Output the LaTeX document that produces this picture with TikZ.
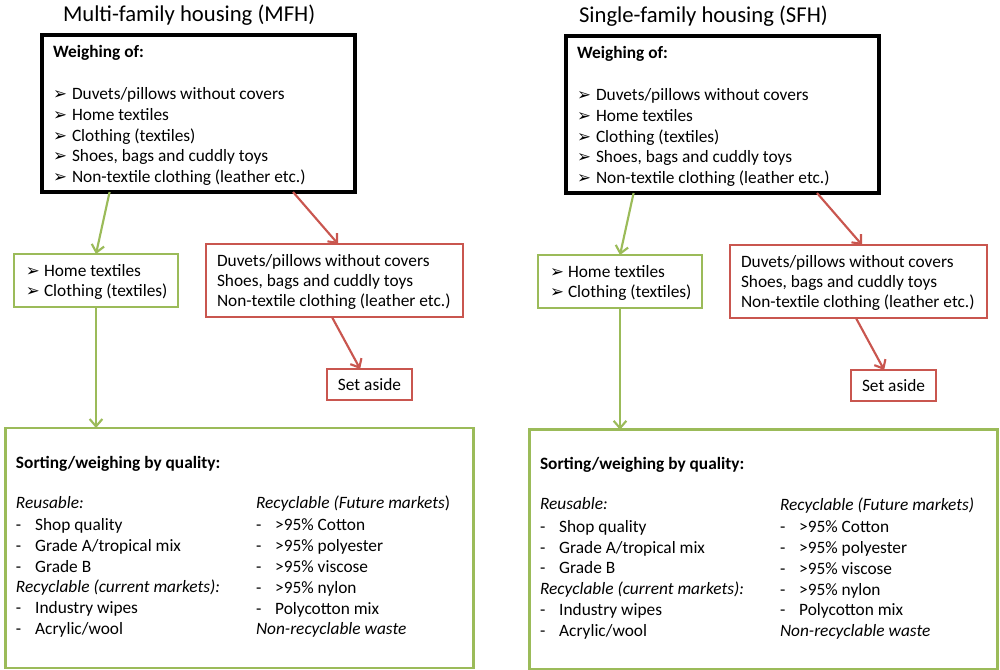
\documentclass[tikz,border=0pt]{standalone}
\usepackage{fontspec}
\usepackage{graphicx}
\setmainfont{Carlito}
\newfontfamily\dingfont{DejaVu Sans}
\usetikzlibrary{arrows.meta,calc}

\definecolor{leafgreen}{HTML}{9BBB59}
\definecolor{brickred}{HTML}{C9564F}

% list markers
\newcommand\pointer{{\dingfont\fontsize{12.5}{12.5}\selectfont ➢}}
\newcommand\arrowitem[1]{\makebox[14.25pt][l]{\pointer}#1}
\newcommand\dashitem[1]{\makebox[14.4pt][l]{-}#1}

\tikzset{
  every node/.style={inner sep=0pt, outer sep=0pt},
  heading/.style={anchor=base west, font=\fontsize{17}{20}\selectfont},
  body/.style={anchor=base west, font=\fontsize{13}{15.6}\selectfont},
  blackbox/.style={draw=black, line width=2.4pt, rectangle},
  greenbox/.style={draw=leafgreen, line width=2pt, rectangle},
  redbox/.style={draw=brickred, line width=2pt, rectangle},
  greenflow/.style={draw=leafgreen, line width=1.6pt,
    -{Straight Barb[length=5.5pt,width=9.5pt,line width=1.6pt]}},
  redflow/.style={draw=brickred, line width=1.6pt,
    -{Straight Barb[length=5.5pt,width=9.5pt,line width=1.6pt]}},
}

% one housing panel: #1 shift, #2 name prefix, #3 title x, #4 title,
% #5 heading of the future-markets column, #6 vertical offset of the lower part
\newcommand\housingpanel[6]{%
\begin{scope}[shift={#1}]
  \node[heading] (#2title) at (#3,22) {#4};

  \node[blackbox, minimum width=313*0.75pt, minimum height=157*0.75pt]
    (#2weigh) at (198.5,113.5) {};
  \node[body] (#2weightxt) at (53,58) {\begin{tabular}[t]{@{}l@{}}
      \textbf{Weighing of:}\\[0pt]
      \mbox{}\\
      \arrowitem{Duvets/pillows without covers}\\
      \arrowitem{Home textiles}\\
      \arrowitem{Clothing (textiles)}\\
      \arrowitem{Shoes, bags and cuddly toys}\\
      \arrowitem{Non-textile clothing (leather etc.)}
    \end{tabular}};

  \node[greenbox, minimum width=164*0.75pt, minimum height=53*0.75pt]
    (#2keep) at (96,280.5) {};
  \node[body] (#2keeptxt) at (26,277) {\begin{tabular}[t]{@{}l@{}}
      \makebox[13.5pt][l]{\pointer}Home textiles\\[-0.6pt]
      \makebox[13.5pt][l]{\pointer}Clothing (textiles)
    \end{tabular}};

  \node[redbox, minimum width=257*0.75pt, minimum height=73*0.75pt]
    (#2other) at (334.5,280.5) {};
  \node[body] (#2othertxt) at (217,267) {\begin{tabular}[t]{@{}l@{}}
      Duvets/pillows without covers\\[-0.6pt]
      Shoes, bags and cuddly toys\\[-0.6pt]
      Non-textile clothing (leather etc.)
    \end{tabular}};

  \node[redbox, minimum width=85*0.75pt, minimum height=31*0.75pt,
        font=\fontsize{13}{15.6}\selectfont]
    (#2aside) at (369.5,384.5) {Set aside};

  \begin{scope}[yshift=#6]
    \node[greenbox, minimum width=468*0.75pt, minimum height=240*0.75pt]
      (#2sort) at (239.5,548) {};
    \node[body] (#2sorthead) at (16,468) {\textbf{Sorting/weighing by quality:}};
    \node[body] (#2reuse) at (16,508) {\begin{tabular}[t]{@{}l@{}}
        \textit{Reusable:}\\[1.2pt]
        \dashitem{Shop quality}\\
        \dashitem{Grade A/tropical mix}\\
        \dashitem{Grade B}\\
        \textit{Recyclable (current markets):}\\
        \dashitem{Industry wipes}\\
        \dashitem{Acrylic/wool}
      \end{tabular}};
    \node[body] (#2future) at (256,508.5) {\begin{tabular}[t]{@{}l@{}}
        #5\\[1.2pt]
        \dashitem{>95\% Cotton}\\
        \dashitem{>95\% polyester}\\
        \dashitem{>95\% viscose}\\
        \dashitem{>95\% nylon}\\
        \dashitem{Polycotton mix}\\
        \textit{Non-recyclable waste}
      \end{tabular}};
  \end{scope}

  % flows between the boxes
  \draw[greenflow] ($(#2weigh.south west)!0.216!(#2weigh.south east)$) -- (#2keep.north);
  \draw[greenflow] (#2keep.south) -- (#2keep.south |- #2sort.north);
  \draw[redflow] ($(#2weigh.south west)!0.802!(#2weigh.south east)$)
    -- ($(#2other.north west)!0.514!(#2other.north east)$);
  \draw[redflow] ($(#2other.south west)!0.49!(#2other.south east)$)
    -- ($(#2aside.north west)!0.39!(#2aside.north east)$);
\end{scope}}

\begin{document}
\begin{tikzpicture}[x=0.75pt, y=-0.75pt]
  \useasboundingbox (0,0) rectangle (1000,670);
  \housingpanel{(0,0)}{mfh}{63}{Multi-family housing (MFH)}%
    {\textit{Recyclable (Future markets}\/)}{0pt}
  \housingpanel{(524,1)}{sfh}{55}{Single-family housing (SFH)}%
    {\textit{Recyclable (Future markets)}}{-0.6pt}
\end{tikzpicture}
\end{document}
